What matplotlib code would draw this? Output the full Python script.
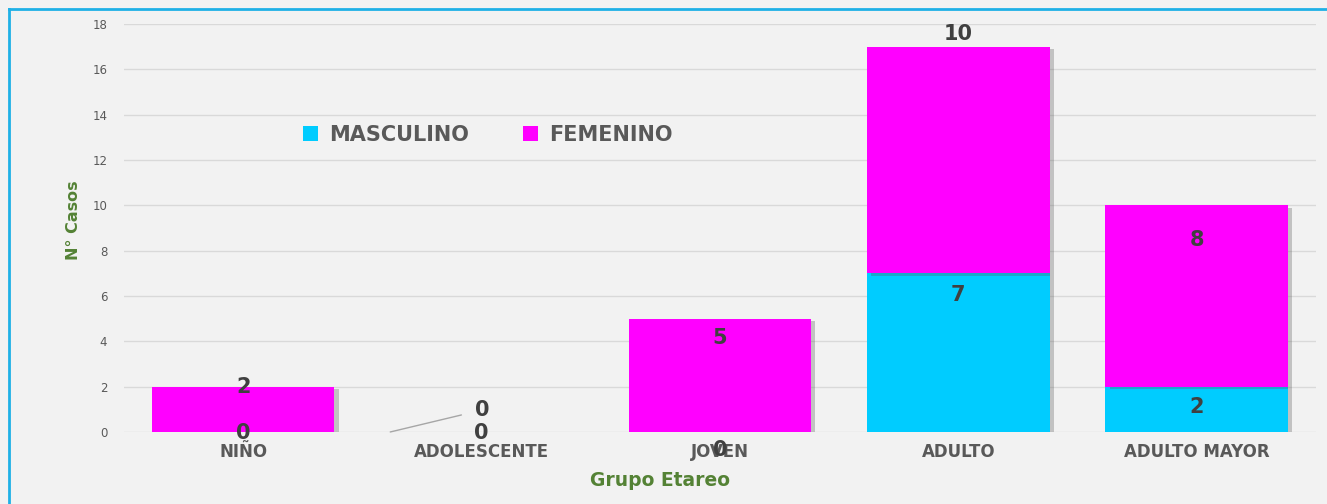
import numpy as np
import matplotlib.pyplot as plt
from matplotlib import patheffects as pe
from matplotlib.lines import Line2D

categorias = ['NIÑO', 'ADOLESCENTE', 'JOVEN', 'ADULTO', 'ADULTO MAYOR']
masculino = [0, 0, 0, 7, 2]
femenino = [2, 0, 5, 10, 8]
yticks = [0, 2, 4, 6, 8, 10, 12, 14, 16, 18]

# desplazamiento vertical de las etiquetas (pixeles respecto al tope del segmento)
off_masc = [-1, -1, -18, -22, -20]
off_fem = [0, 22, -19, 13, -35]

px = 72 / 100  # pixel -> puntos

fig = plt.figure(figsize=(13.27, 5.04), dpi=100, facecolor='#f2f2f2')
ax = fig.add_axes([0.0934, 0.1429, 0.8983, 0.8095])
ax.set_facecolor('none')

x = np.arange(len(categorias))
w = 0.766

b1 = ax.bar(x, masculino, w, color='#00ccff', label='MASCULINO', zorder=3)
b2 = ax.bar(x, femenino, w, bottom=masculino, color='#ff00ff', label='FEMENINO', zorder=3)

# leyenda antes de la sombra para que no la copie
leg = ax.legend(loc='center left', bbox_to_anchor=(0.150, 0.728), ncol=2, frameon=False,
                prop=dict(size=15, weight='bold'), handlelength=0.75, handleheight=0.75,
                columnspacing=2.6, handletextpad=0.5, borderpad=0, borderaxespad=0)
for t in leg.get_texts():
    t.set_color('#595959')

sombra = [pe.SimplePatchShadow(offset=(3, -2), alpha=0.3, shadow_rgbFace='#555555'), pe.Normal()]
for b in list(b1) + list(b2):
    if b.get_height() > 0:
        b.set_path_effects(sombra)

estilo = dict(ha='center', va='center', fontsize=15, fontweight='bold', color='#404040',
              textcoords='offset points', zorder=5)
for i in range(len(categorias)):
    top_m = masculino[i]
    ax.annotate(str(masculino[i]), xy=(x[i], top_m), xytext=(0, off_masc[i] * px), **estilo)
    top_f = masculino[i] + femenino[i]
    if femenino[i] == 0:
        # etiqueta desplazada con linea guia
        ax.annotate(str(femenino[i]), xy=(x[i] - w / 2, top_f), xytext=(92 * px, off_fem[i] * px),
                    arrowprops=dict(arrowstyle='-', color='#a6a6a6', lw=1, shrinkA=8, shrinkB=0),
                    **estilo)
    else:
        ax.annotate(str(femenino[i]), xy=(x[i], top_f), xytext=(0, off_fem[i] * px), **estilo)

ax.set_xlim(-0.5, len(categorias) - 0.5)
ax.set_ylim(0, 18)
ax.set_yticks(yticks)
ax.set_xticks(x)
ax.set_xticklabels(categorias, fontsize=12, fontweight='bold', color='#595959')
ax.tick_params(axis='y', labelsize=8.5, colors='#595959', length=0, pad=12)
ax.tick_params(axis='x', length=0, pad=8)
ax.grid(axis='y', color='#d9d9d9', lw=1, zorder=0)
for s in ax.spines.values():
    s.set_visible(False)

ax.set_xlabel('Grupo Etareo', fontsize=13.5, fontweight='bold', color='#548235')
ax.xaxis.set_label_coords(0.45, -0.095)
ax.set_ylabel('N° Casos', fontsize=11.5, fontweight='bold', color='#548235',
              family=['Liberation Sans Narrow', 'DejaVu Sans'])
ax.yaxis.set_label_coords(-0.036, 0.52)

# marco azul
fig.add_artist(Line2D([9 / 1327, 1], [1 - 9 / 504, 1 - 9 / 504], color='#1fb0e6', lw=2))
fig.add_artist(Line2D([9 / 1327, 9 / 1327], [0, 1 - 9 / 504], color='#1fb0e6', lw=2))

plt.savefig('out.png', dpi=100, facecolor=fig.get_facecolor())
